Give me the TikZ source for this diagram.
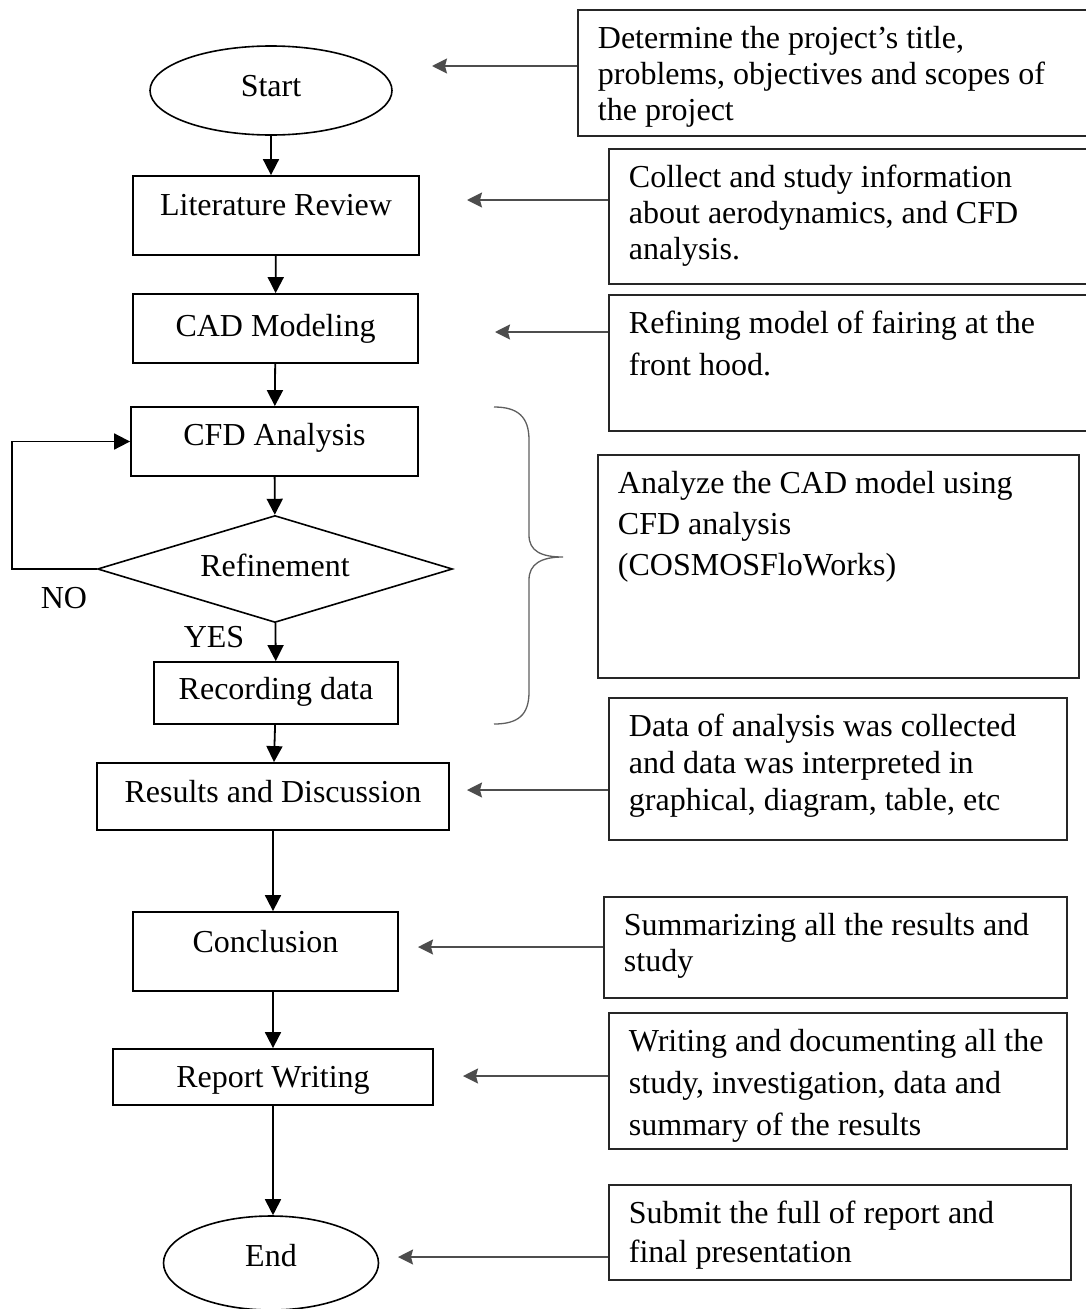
\documentclass[tikz,border=0pt]{standalone}
\usepackage{fontspec}
\setmainfont{Liberation Serif}
\usepackage{xcolor}
\definecolor{notegray}{HTML}{4D4D4D}
\definecolor{bracegray}{HTML}{5F5F5F}
\definecolor{noteline}{HTML}{262626}
\usepackage{tikz}
\usetikzlibrary{arrows.meta,positioning,shapes.geometric}

% text of a side note: width, height, line skip, text
\newcommand{\notetext}[4]{%
  \begin{minipage}[c][#2][t]{#1}\raggedright\leftskip=20pt
  \fontsize{32}{#3}\selectfont\rule{0pt}{39pt}#4\end{minipage}}

\begin{document}
\begin{tikzpicture}[x=1pt,y=-1pt,font=\fontsize{32}{38}\selectfont,
  stepbox/.style={draw,line width=1.8pt,inner sep=0pt,text height=22pt},
  termbox/.style={stepbox,ellipse,line width=1.6pt},
  notebox/.style={draw=noteline,line width=1.8pt,inner sep=0pt,anchor=north west},
  flow/.style={line width=1.8pt,-{Triangle[length=16pt,width=16pt]}},
  notearrow/.style={draw=notegray,line width=1.6pt,-{Stealth[length=15pt,width=15pt,inset=2pt]}}]
\useasboundingbox (0,0) rectangle (1085,1309);

% main flow
\node[termbox,minimum width=242pt,minimum height=89pt,text depth=11pt] (start) at (271,90.5) {Start};
\node[stepbox,minimum width=286pt,minimum height=79pt,text depth=23pt] (lit) at (276,215.5) {Literature Review};
\node[stepbox,minimum width=285pt,minimum height=69pt,text depth=7pt] (cad) at (275.5,328.5) {CAD Modeling};
\node[stepbox,minimum width=287pt,minimum height=69pt,text depth=15pt] (cfd) at (274.5,441.5) {CFD Analysis};
\node[stepbox,diamond,aspect=3.3,line width=1.6pt,minimum width=355pt,minimum height=107pt,text depth=8pt] (refine) at (275,569) {Refinement};
\node[stepbox,minimum width=244pt,minimum height=62pt,text depth=10pt] (rec) at (276,693) {Recording data};
\node[stepbox,minimum width=352pt,minimum height=67pt,text depth=11pt] (res) at (273,796.5) {Results and Discussion};
\node[stepbox,minimum width=265pt,minimum height=79pt,text depth=21pt] (concl) at (265.5,951.5) {Conclusion};
\node[stepbox,minimum width=320pt,minimum height=56pt,text depth=2pt] (report) at (273,1077) {Report Writing};
\node[termbox,minimum width=215pt,minimum height=94pt,text depth=16pt] (end) at (271,1263) {End};

\node[anchor=base] (nolbl) at (64,608) {NO};
\node[anchor=base] (yeslbl) at (214,647) {YES};

\draw[flow] (start) -- (start |- lit.north);
\draw[flow] (lit) -- (cad);
\draw[flow] (cad) -- (cfd);
\draw[flow] (cfd) -- (refine);
\draw[flow] (refine) -- (rec);
\draw[flow] (rec) -- (res);
\draw[flow] (res) -- (res |- concl.north);
\draw[flow] (report |- concl.south) -- (report);
\draw[flow] (report) -- (report |- end.north);
\draw[flow] (refine.west) -- ++(-85,0) |- (cfd.west);

% side notes
\node[notebox] (n1) at (577,9) {\notetext{520pt}{126pt}{36pt}{Determine the project’s title,\\problems, objectives and scopes of\\the project}};
\node[notebox] (n2) at (608,148) {\notetext{490pt}{135pt}{36pt}{Collect and study information\\about aerodynamics, and CFD\\analysis.}};
\node[notebox] (n3) at (608,294) {\notetext{490pt}{136pt}{42pt}{Refining model of fairing at the\\front hood.}};
\node[notebox] (n4) at (597,454) {\notetext{481pt}{223pt}{41pt}{Analyze the CAD model using\\CFD analysis\\(COSMOSFloWorks)}};
\node[notebox] (n5) at (608,697) {\notetext{458pt}{142pt}{37pt}{Data of analysis was collected\\and data was interpreted in\\graphical, diagram, table, etc}};
\node[notebox] (n6) at (603,896) {\notetext{463pt}{101pt}{36pt}{Summarizing all the results and\\study}};
\node[notebox] (n7) at (608,1012) {\notetext{458pt}{136pt}{42pt}{Writing and documenting all the\\study, investigation, data and\\summary of the results}};
\node[notebox] (n8) at (608,1184) {\notetext{462pt}{95pt}{39pt}{Submit the full of report and\\final presentation}};

\coordinate (t1) at (432,66);
\coordinate (t2) at (467,200);
\coordinate (t3) at (495,332);
\coordinate (t5) at (467,790);
\coordinate (t6) at (418,947);
\coordinate (t7) at (463,1076);
\coordinate (t8) at (398,1257);
\draw[notearrow] (n1.west |- t1) -- (t1);
\draw[notearrow] (n2.west |- t2) -- (t2);
\draw[notearrow] (n3.west |- t3) -- (t3);
\draw[notearrow] (n5.west |- t5) -- (t5);
\draw[notearrow] (n6.west |- t6) -- (t6);
\draw[notearrow] (n7.west |- t7) -- (t7);
\draw[notearrow] (n8.west |- t8) -- (t8);

% brace over the analysis loop
\draw[bracegray,line width=1.3pt] (494,407) .. controls (518,407) and (529,417) .. (529,440)
  -- (529,535) .. controls (529,551) and (541,557) .. (563,557)
  .. controls (541,557) and (529,564) .. (529,580)
  -- (529,692) .. controls (529,715) and (518,724) .. (494,724);
\end{tikzpicture}
\end{document}
